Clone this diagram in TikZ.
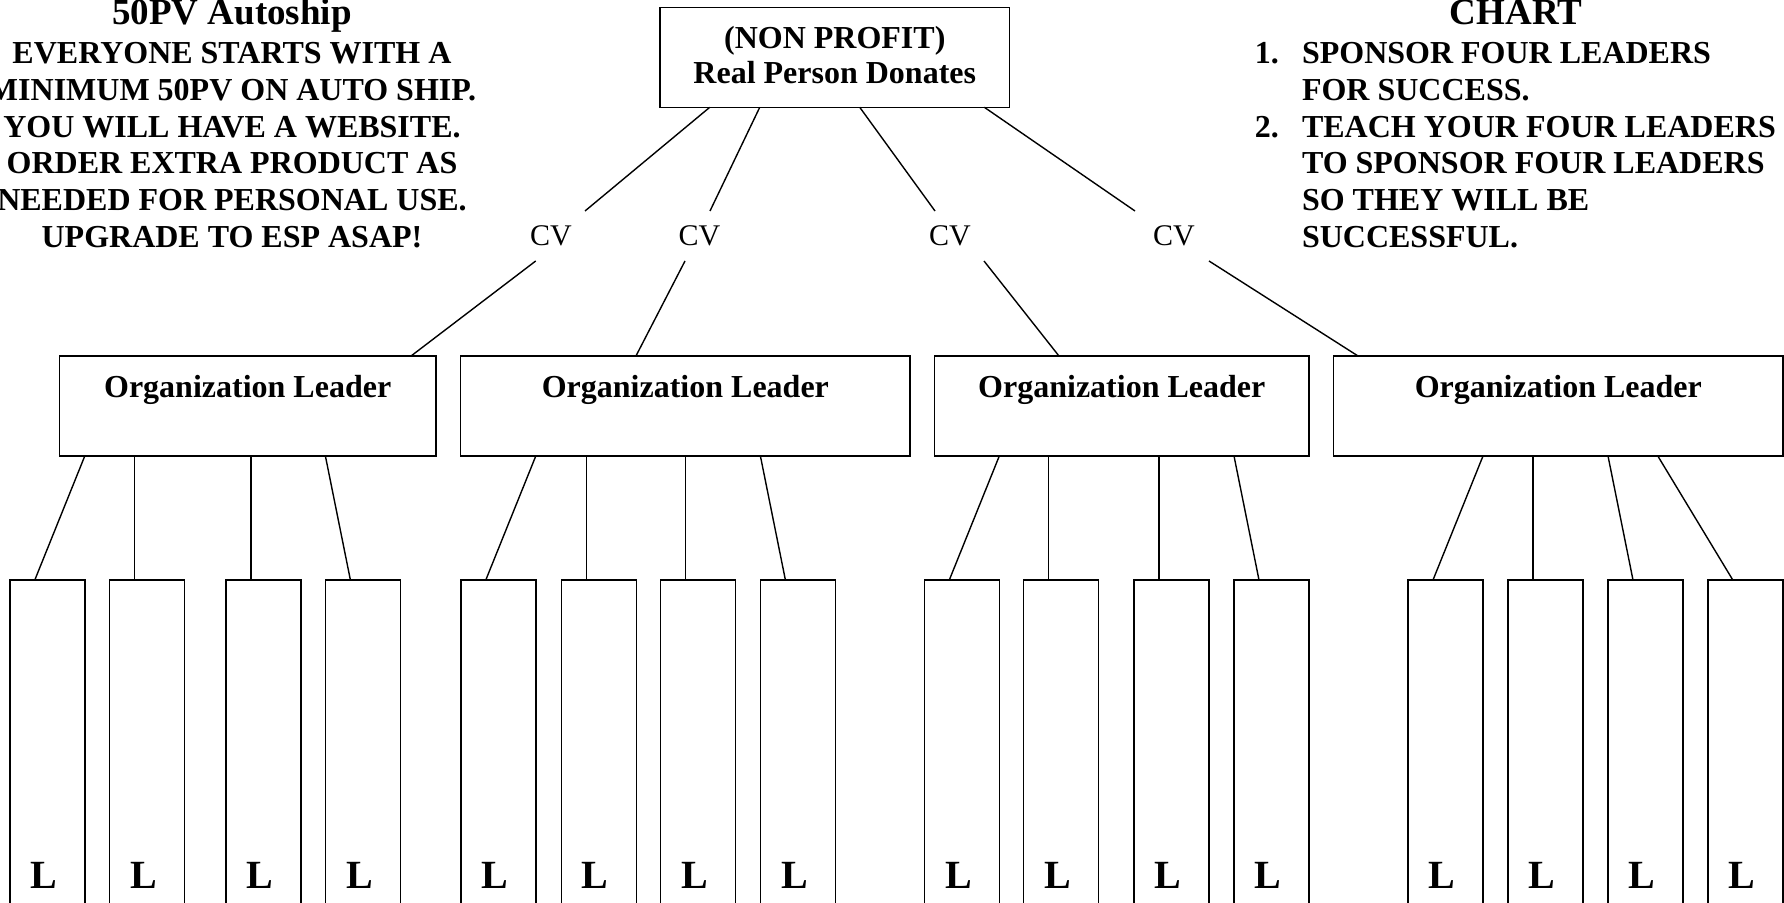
\documentclass[tikz,border=0pt]{standalone}
\usepackage{fontspec}
\setmainfont{Liberation Serif}
\begin{document}
\begin{tikzpicture}[x=0.5pt,y=-0.5pt,
  every node/.style={inner sep=0pt, outer sep=0pt},
  boxstyle/.style={draw, line width=0.7pt, rectangle, inner sep=0pt},
  topbox/.style={boxstyle, minimum width=174.75pt, minimum height=50pt},
  orgbox/.style={boxstyle, minimum height=50pt},
  lbox/.style={boxstyle, minimum width=37.5pt, minimum height=175pt, anchor=north},
  conn/.style={line width=0.7pt},
  bodytext/.style={font=\fontsize{16}{19}\selectfont\bfseries, anchor=base},
  leftline/.style={bodytext, anchor=base west},
  titletext/.style={font=\fontsize{18.5}{22}\selectfont\bfseries, anchor=base},
  ltext/.style={font=\fontsize{20}{24}\selectfont\bfseries, anchor=base},
  cvtext/.style={font=\fontsize{15}{18}\selectfont, minimum height=25pt},
]
\useasboundingbox (0,0) rectangle (1784,903);
\clip (0,0) rectangle (1784,903);

% ---------- left text block ----------
\node[titletext] (lt0) at (232,25) {50PV Autoship};
\node[bodytext] (lt1) at (232,63.5) {EVERYONE STARTS WITH A};
\node[bodytext] (lt2) at (232,100.3) {MINIMUM 50PV ON AUTO SHIP.};
\node[bodytext] (lt3) at (232,137.1) {YOU WILL HAVE A WEBSITE.};
\node[bodytext] (lt4) at (232,173.9) {ORDER EXTRA PRODUCT AS};
\node[bodytext] (lt5) at (232,210.7) {NEEDED FOR PERSONAL USE.};
\node[bodytext] (lt6) at (232,247.5) {UPGRADE TO ESP ASAP!};

% ---------- right text block ----------
\node[titletext] (rt0) at (1516,25) {CHART};
\node[leftline] (rn1) at (1254.8,63.5) {1.};
\node[leftline] (rt1) at (1302,63.5) {SPONSOR FOUR LEADERS};
\node[leftline] (rt2) at (1302,100.3) {FOR SUCCESS.};
\node[leftline] (rn2) at (1254.8,137.1) {2.};
\node[leftline] (rt3) at (1302,137.1) {TEACH YOUR FOUR LEADERS};
\node[leftline] (rt4) at (1302,173.9) {TO SPONSOR FOUR LEADERS};
\node[leftline] (rt5) at (1302,210.7) {SO THEY WILL BE};
\node[leftline] (rt6) at (1302,247.5) {SUCCESSFUL.};

% ---------- top box ----------
\node[topbox] (top) at (834.75,57.3) {};
\node[bodytext] (topa) at (834.75,48.3) {(NON PROFIT)};
\node[bodytext] (topb) at (834.75,83.3) {Real Person Donates};

% ---------- CV labels ----------
\node[cvtext] (cv1) at (551,236) {CV};
\node[cvtext] (cv2) at (699.5,236) {CV};
\node[cvtext] (cv3) at (950,236) {CV};
\node[cvtext] (cv4) at (1174,236) {CV};

% ---------- organization leader boxes ----------
\node[orgbox, minimum width=188.35pt] (o1) at (247.65,406) {};
\node[orgbox, minimum width=224.65pt] (o2) at (685.35,406) {};
\node[orgbox, minimum width=187.25pt] (o3) at (1121.75,406) {};
\node[orgbox, minimum width=224.7pt] (o4) at (1558.3,406) {};
\node[bodytext] (ot1) at (247.65,398) {Organization Leader};
\node[bodytext] (ot2) at (685.35,398) {Organization Leader};
\node[bodytext] (ot3) at (1121.75,398) {Organization Leader};
\node[bodytext] (ot4) at (1558.3,398) {Organization Leader};

% ---------- L boxes ----------
\foreach \n/\x in {a1/47.3, a2/147.2, a3/263.5, a4/362.9,
                   b1/498.3, b2/598.7, b3/698, b4/797.9,
                   c1/961.8, c2/1061, c3/1171.5, c4/1271.5,
                   d1/1445.5, d2/1545.5, d3/1645.5, d4/1745.3} {
  \node[lbox] (\n) at (\x,580) {};
  \coordinate (t\n) at ([xshift=-6.25pt]\n.north);
  \node[ltext] (L\n) at ([xshift=-1.7pt]\x,888) {L};
}

% ---------- connectors: top box -> CV -> organization leaders ----------
\draw[conn] ([xshift=-62.5pt]top.south) -- ([xshift=17pt]cv1.north);
\draw[conn] ([xshift=-7.65pt]cv1.south) -- ([xshift=81.7pt]o1.north);
\draw[conn] ([xshift=-37.5pt]top.south) -- ([xshift=5.25pt]cv2.north);
\draw[conn] ([xshift=-7.25pt]cv2.south) -- ([xshift=-24.7pt]o2.north);
\draw[conn] ([xshift=12.5pt]top.south) -- ([xshift=-7.5pt]cv3.north);
\draw[conn] ([xshift=17pt]cv3.south) -- ([xshift=-31.4pt]o3.north);
\draw[conn] ([xshift=74.8pt]top.south) -- ([xshift=-19.5pt]cv4.north);
\draw[conn] ([xshift=17.5pt]cv4.south) -- ([xshift=-100.15pt]o4.north);

% ---------- connectors: organization leaders -> L boxes ----------
\draw[conn] (a1.north east |- o1.south) -- (ta1);
\draw[conn] (ta2 |- o1.south) -- (ta2);
\draw[conn] (ta3 |- o1.south) -- (ta3);
\draw[conn] (a4.north west |- o1.south) -- (ta4);

\draw[conn] (b1.north east |- o2.south) -- (tb1);
\draw[conn] (tb2 |- o2.south) -- (tb2);
\draw[conn] (tb3 |- o2.south) -- (tb3);
\draw[conn] (b4.north west |- o2.south) -- (tb4);

\draw[conn] (c1.north east |- o3.south) -- (tc1);
\draw[conn] (tc2 |- o3.south) -- (tc2);
\draw[conn] (tc3 |- o3.south) -- (tc3);
\draw[conn] (c4.north west |- o3.south) -- (tc4);

\draw[conn] (d1.north east |- o4.south) -- (td1);
\draw[conn] (td2 |- o4.south) -- (td2);
\draw[conn] (d3.north west |- o4.south) -- (td3);
\draw[conn] ([xshift=49.75pt]o4.south) -- (td4);
\end{tikzpicture}
\end{document}
